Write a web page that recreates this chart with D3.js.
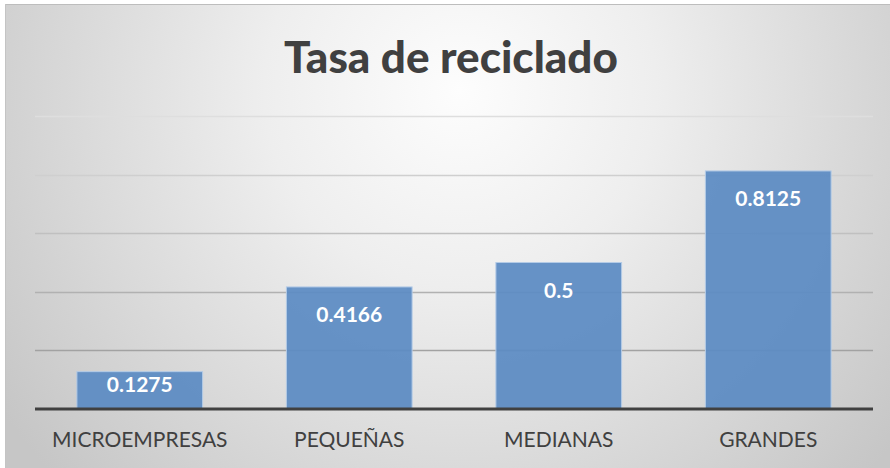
<!DOCTYPE html>
<html><head><meta charset="utf-8">
<script src="https://cdn.jsdelivr.net/npm/d3@7"></script>
<style>html,body{margin:0;padding:0;background:#fff;}svg{display:block;}</style>
</head><body>
<svg id="chart" width="890" height="468"></svg>
<script>
const categories = ["MICROEMPRESAS", "PEQUEÑAS", "MEDIANAS", "GRANDES"];
const values = [0.1275, 0.4166, 0.5, 0.8125];
const valueLabels = ["0.1275", "0.4166", "0.5", "0.8125"];
const yTicks = [0.2, 0.4, 0.6, 0.8, 1.0];
const title = "Tasa de reciclado";

(function(){
const svg = d3.select("#chart");
const W = 890, H = 468;
const defs = svg.append("defs");
const rg = defs.append("radialGradient").attr("id","bg")
  .attr("gradientUnits","userSpaceOnUse")
  .attr("cx", 460).attr("cy", 90).attr("r", 560);
rg.append("stop").attr("offset","0").attr("stop-color","#fdfdfd");
rg.append("stop").attr("offset","0.35").attr("stop-color","#eeeeee");
rg.append("stop").attr("offset","1").attr("stop-color","#c6c6c6");

svg.append("rect").attr("x",5).attr("y",4).attr("width",W-5).attr("height",H-4).attr("fill","url(#bg)");
svg.append("line").attr("x1",5).attr("x2",W).attr("y1",4.5).attr("y2",4.5).attr("stroke","#bdbdbd").attr("stroke-width",1);
svg.append("line").attr("x1",5.5).attr("x2",5.5).attr("y1",4).attr("y2",H).attr("stroke","#c4c4c4").attr("stroke-width",1);

const pLeft = 35, pRight = 873, pTop = 116, pBottom = 409;
const x = d3.scaleBand().domain(categories).range([pLeft, pRight]).paddingInner(0.4).paddingOuter(0.2);
const y = d3.scaleLinear().domain([0, 1]).range([pBottom, pTop]);
const gridColor = d3.scaleLinear().domain([0.2, 1.0]).range(["#a2a2a2", "#dedede"]);

svg.append("g").selectAll("line").data(yTicks).join("line")
  .attr("x1", pLeft).attr("x2", pRight)
  .attr("y1", d => Math.round(y(d)) + 0.5).attr("y2", d => Math.round(y(d)) + 0.5)
  .attr("stroke", d => gridColor(d)).attr("stroke-width", 1.5);

svg.append("g").selectAll("rect").data(values).join("rect")
  .attr("x", (d,i) => x(categories[i]))
  .attr("y", d => y(d))
  .attr("width", x.bandwidth())
  .attr("height", d => y(0) - y(d))
  .attr("fill", "#5b8bc3").attr("fill-opacity", 0.93)
  .attr("stroke", "#b4cbe6").attr("stroke-width", 1);

svg.append("line").attr("x1", pLeft).attr("x2", pRight).attr("y1", y(0)).attr("y2", y(0))
  .attr("stroke", "#404040").attr("stroke-width", 3);

svg.append("g").selectAll("text").data(values).join("text")
  .attr("x", (d,i) => x(categories[i]) + x.bandwidth()/2)
  .attr("y", d => Math.min(y(d) + 35, y(0) - 17))
  .attr("text-anchor","middle")
  .attr("font-family","Lato, 'Open Sans', sans-serif").attr("font-weight","bold")
  .attr("font-size", 21).attr("fill","#ffffff")
  .text((d,i) => valueLabels[i]);

const xAxis = d3.axisBottom(x).tickSize(0).tickPadding(0);
const gx = svg.append("g").attr("transform", `translate(0,${pBottom})`).call(xAxis);
gx.select(".domain").remove();
gx.selectAll("text").attr("y", 38).attr("dy", 0)
  .attr("font-family","Lato, 'Open Sans', sans-serif").attr("font-size", 21)
  .attr("fill","#404040");

svg.append("text").attr("x", 451).attr("y", 73).attr("text-anchor","middle")
  .attr("font-family","Lato, 'Open Sans', sans-serif").attr("font-weight","900")
  .attr("font-size", 44).attr("fill","#404040").text(title);
})();
</script>
</body></html>
